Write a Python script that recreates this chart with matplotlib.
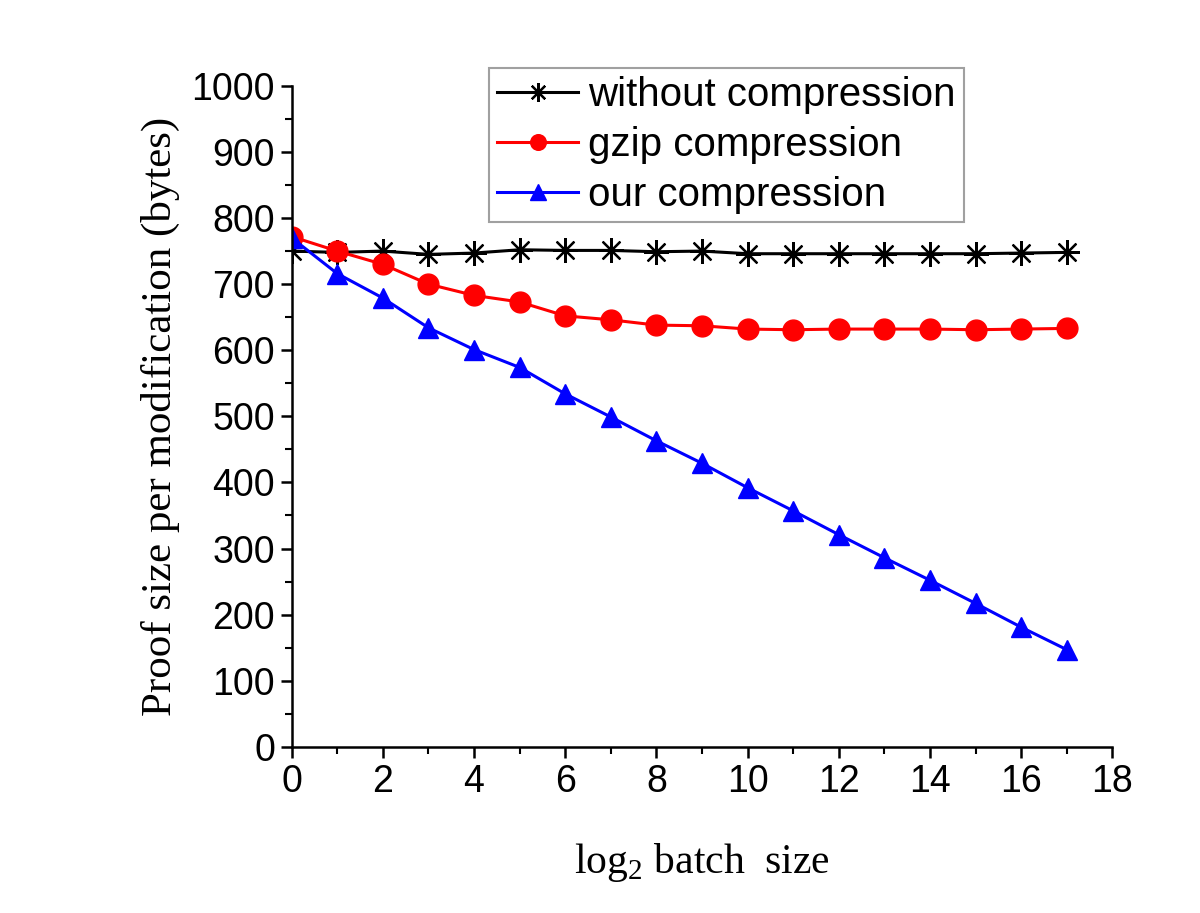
import matplotlib.pyplot as plt
from matplotlib.ticker import MultipleLocator

# datos
batch = list(range(18))  # log2 del tamaño del lote
sinCompresion = [750, 748, 750, 745, 747, 752, 751, 751, 749, 750, 746, 746, 746, 746, 746, 746, 747, 748]
gzip = [772, 750, 730, 700, 683, 673, 652, 646, 638, 637, 632, 631, 632, 632, 632, 631, 632, 633]
nuestra = [770, 716, 679, 634, 601, 574, 534, 499, 463, 429, 392, 357, 321, 286, 252, 217, 181, 147]

fig = plt.figure(figsize=(12, 9.13), dpi=100)
ax = fig.add_axes([0.243, 0.182, 0.684, 0.724])

ax.plot(batch, sinCompresion, color='black', marker=(8, 2, 0), markersize=18, lw=2.2,
        label='without compression', markeredgewidth=1.6)
ax.plot(batch, gzip, color='red', marker='o', markersize=15, lw=2.2, label='gzip compression')
ax.plot(batch, nuestra, color='blue', marker='^', markersize=15, lw=2.2, label='our compression')

ax.set_xlim(0, 18)
ax.set_ylim(0, 1000)
ax.xaxis.set_major_locator(MultipleLocator(2))
ax.xaxis.set_minor_locator(MultipleLocator(1))
ax.yaxis.set_major_locator(MultipleLocator(100))
ax.yaxis.set_minor_locator(MultipleLocator(50))

ax.spines['top'].set_visible(False)
ax.spines['right'].set_visible(False)
for s in ['left', 'bottom']:
    ax.spines[s].set_linewidth(1.8)
ax.tick_params(which='major', direction='out', length=8, width=1.8, labelsize=27, pad=4)
ax.tick_params(which='minor', direction='out', length=5, width=1.5)
for lab in ax.get_xticklabels() + ax.get_yticklabels():
    lab.set_fontfamily('Liberation Sans')

ax.set_xlabel(r'log$_\mathregular{2}$ batch  size', fontfamily='Liberation Serif', fontsize=30, labelpad=30)
ax.set_ylabel('Proof size per modification (bytes)', fontfamily='Liberation Serif', fontsize=31, labelpad=8)

leg = ax.legend(loc='upper left', bbox_to_anchor=(0.241, 1.027), frameon=True, fancybox=False,
                prop={'family': 'Liberation Sans', 'size': 29}, handlelength=2, handletextpad=0.25,
                borderpad=0.2, labelspacing=0.3, borderaxespad=0, markerscale=0.75)
leg.get_frame().set_edgecolor('#888888')
leg.get_frame().set_linewidth(1.5)

plt.savefig('out.png', dpi=100)
